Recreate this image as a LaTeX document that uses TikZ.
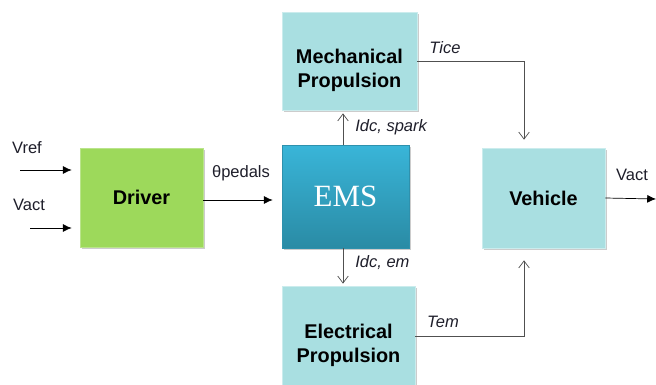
\documentclass[tikz,border=0pt]{standalone}
\usepackage{fontspec}
\setmainfont{Liberation Sans}
\newfontfamily\emsfont{Liberation Serif}
\usetikzlibrary{arrows.meta,shadows}
\definecolor{drivergreen}{HTML}{9DD95B}
\definecolor{boxcyan}{HTML}{A9DFE1}
\definecolor{emstop}{HTML}{39B5D8}
\definecolor{emsbot}{HTML}{2A8BA5}
\definecolor{wiregray}{HTML}{505050}
\definecolor{labelink}{HTML}{1E1E2A}
\begin{document}
\begin{tikzpicture}[x=0.02cm,y=-0.02cm,
	block/.style={rectangle, minimum width=#1, align=center, inner sep=0pt,
		font=\fontsize{11.3}{13.8}\selectfont\bfseries,
		drop shadow={opacity=0.4, shadow xshift=1.4pt, shadow yshift=-1.4pt}},
	boxtext/.style={align=center, inner sep=0pt, font=\fontsize{11.3}{13.8}\selectfont\bfseries},
	sig/.style={-{Latex[length=5pt,width=4.5pt]}, thin, black},
	flow/.style={-{Straight Barb[length=4pt,width=6pt]}, thin, wiregray},
	lbl/.style={font=\fontsize{9.4}{11}\selectfont, text=labelink, inner sep=0pt},
	ilbl/.style={lbl, font=\fontsize{9.4}{11}\selectfont\itshape}]
	\useasboundingbox (0,0) rectangle (656,385);
	\node[block=2.46cm, minimum height=1.98cm, fill=drivergreen, draw=drivergreen!70!white] (driver) at (141.5,197.5) {Driver};
	\node[block=2.70cm, minimum height=1.96cm, fill=boxcyan, draw=boxcyan!60!white] (mech) at (349.5,61) {};
	\node[block=2.54cm, minimum height=2.06cm, top color=emstop, bottom color=emsbot, draw=emstop!80!black,
		font=\emsfont\fontsize{17.6}{20}\selectfont, text=white] (ems) at (345.5,196.5) {EMS};
	\node[block=2.66cm, minimum height=2.00cm, fill=boxcyan, draw=boxcyan!60!white] (elec) at (348.5,336) {};
	\node[block=2.46cm, minimum height=2.00cm, fill=boxcyan, draw=boxcyan!60!white] (vehicle) at (543.5,198) {Vehicle};
	\node[boxtext] (mechtxt) at ([yshift=-0.18cm]mech.center) {Mechanical\\Propulsion};
	\node[boxtext] (electxt) at ([yshift=-0.18cm]elec.center) {Electrical\\Propulsion};
	\coordinate (vrefin) at (20,170);
	\coordinate (vactin) at (30,228);
	\coordinate (vactout) at (656,199);
	\coordinate (vtop) at ([xshift=-0.39cm]vehicle.north);
	\coordinate (vbot) at ([xshift=-0.39cm]vehicle.south);
	\coordinate (emstop) at ([xshift=-0.05cm]ems.north);
	\coordinate (emsbot) at ([xshift=-0.05cm]ems.south);
	\draw[sig, shorten >=0.16cm] (vrefin) -- (vrefin -| driver.west);
	\draw[sig, shorten >=0.16cm] (vactin) -- (vactin -| driver.west);
	\draw[sig, shorten >=0.18cm] ([yshift=-0.05cm]driver.east) -- ([yshift=-0.05cm]driver.east -| ems.west);
	\draw[flow, shorten >=0.06cm] (emstop) -- (emstop |- mech.south);
	\draw[flow, shorten >=0.04cm] (emsbot) -- (emsbot |- elec.north);
	\draw[flow, shorten >=0.16cm] (mech.east) -| (vtop);
	\draw[flow, shorten >=0.24cm] (elec.east) -| (vbot);
	\draw[sig] (vehicle.east) -- (vactout);
	\node[lbl] (vreflbl) at (27,148) {Vref};
	\node[lbl] (vactlbl) at (29,205) {Vact};
	\node[lbl] (pedlbl) at (241,173) {θpedals};
	\node[ilbl, anchor=west] (sparklbl) at (355,127) {Idc, spark};
	\node[ilbl, anchor=west] (emlbl) at (355,263) {Idc, em};
	\node[ilbl] (ticelbl) at (445,48) {Tice};
	\node[ilbl] (temlbl) at (443,322) {Tem};
	\node[lbl] (voutlbl) at (632,175) {Vact};
\end{tikzpicture}
\end{document}
